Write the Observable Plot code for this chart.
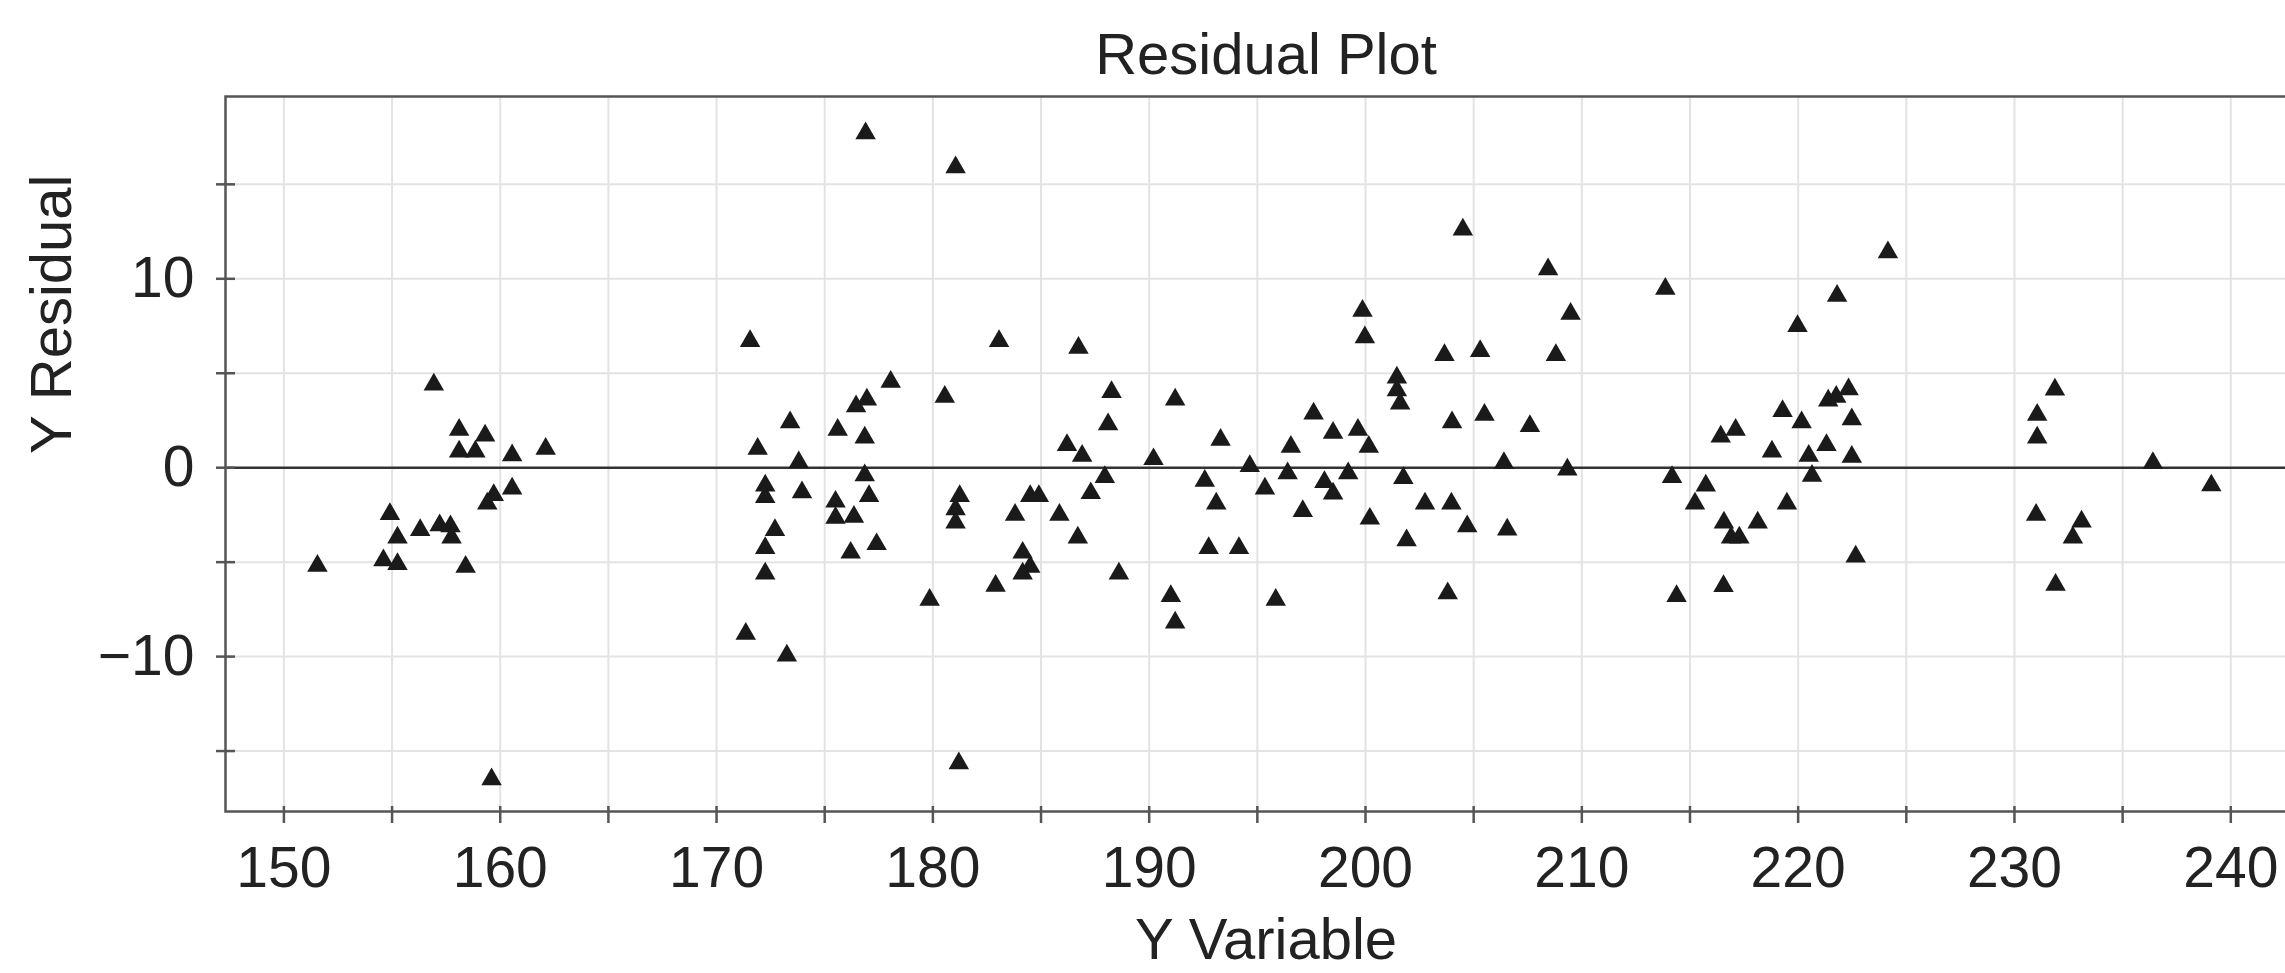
<!DOCTYPE html>
<html>
<head>
<meta charset="utf-8">
<script src="https://cdn.jsdelivr.net/npm/d3@7"></script>
<script src="https://cdn.jsdelivr.net/npm/@observablehq/plot@0.6"></script>
<style>
  html, body { margin: 0; padding: 0; background: #ffffff; overflow: hidden; }
  #chart { width: 2285px; height: 973px; overflow: hidden; }
  #chart svg { max-width: none !important; display: block; }
</style>
</head>
<body>
<div id="chart"></div>
<script>
// ---- Text ----
const title = "Residual Plot";
const xLabel = "Y Variable";
const yLabel = "Y Residual";

// ---- Ticks ----
const xTicks = [150, 155, 160, 165, 170, 175, 180, 185, 190, 195, 200, 205, 210, 215, 220, 225, 230, 235, 240];
const xTickLabels = [150, 160, 170, 180, 190, 200, 210, 220, 230, 240];
const yTicks = [-15, -10, -5, 0, 5, 10, 15];
const yTickLabels = [-10, 0, 10];

// ---- Data ----
const yVariable = [
  // 150–162
  151.55, 156.93, 158.1, 159.3, 158.1, 158.85, 160.55, 162.1, 160.55, 159.7, 159.4,
  154.9, 155.25, 156.3, 157.2, 157.7, 157.75, 154.6, 155.25, 158.4, 159.6,
  // 171–188
  176.89, 181.05, 171.55, 183.06, 186.73, 178.05, 180.55, 176.95, 176.45, 173.4, 175.6,
  176.85, 171.9, 173.8, 186.2, 186.9, 176.85, 172.25, 172.25, 173.95, 175.5, 177.05,
  181.24, 181.05, 181.05, 184.5, 184.9, 187.3, 175.5, 176.35, 172.7, 183.8, 185.85,
  186.7, 172.25, 176.2, 177.4, 184.15, 184.5, 184.15, 172.25, 182.9, 179.85, 171.35,
  173.25, 181.2,
  // 188–208
  188.26, 188.1, 187.95, 188.6, 190.2, 191.2, 191.0, 191.2, 193.3, 192.57, 193.1,
  192.75, 194.15, 194.65, 195.35, 195.85, 196.55, 196.4, 197.1, 197.6, 198.5, 198.1,
  198.5, 199.2, 199.65, 200.15, 199.86, 199.97, 200.2, 201.45, 201.45, 201.6, 201.75,
  201.9, 202.75, 203.65, 204.0, 203.97, 203.8, 204.5, 204.7, 205.3, 205.5, 206.4,
  206.55, 207.6,
  // 208–225
  208.44, 209.48, 208.8, 209.33, 213.86, 214.17, 214.38, 215.73, 215.23, 216.42, 217.11,
  216.57, 216.9, 217.28, 216.55, 218.13, 218.79, 219.28, 219.48, 219.97, 220.16, 220.49,
  220.64, 221.31, 221.8, 221.39, 221.76, 222.33, 222.48, 222.48, 222.66, 224.15,
  // 231–239
  231.87, 231.05, 231.05, 236.4, 239.1, 231.0, 233.1, 232.7, 231.9
];
const yResidual = [
  -5.2, 4.4, 2.0, 1.7, 0.85, 0.85, 0.65, 1.0, -1.1, -1.45, -1.9,
  -2.45, -3.7, -3.3, -3.05, -3.1, -3.7, -4.9, -5.1, -5.25, -16.5,
  17.7, 15.9, 6.7, 6.7, 6.35, 4.55, 3.75, 3.6, 3.25, 2.4, 2.0,
  1.6, 1.0, 0.28, 1.2, 0.63, -0.4, -0.95, -1.55, -1.3, -1.8, -1.5,
  -1.5, -2.2, -2.9, -1.5, -1.5, -1.35, -2.65, -2.6, -3.3, -2.5, -2.5,
  -3.7, -4.25, -4.5, -4.05, -4.5, -5.25, -5.6, -5.6, -6.25, -7.0, -8.8,
  -9.95, -15.65,
  4.0, 2.3, -0.5, -5.6, 0.45, 3.6, -6.8, -8.2, 1.47, -0.7, -1.9,
  -4.25, -4.25, 0.08, -1.1, -7.0, 1.1, -0.3, -2.3, 2.87, 1.85, -0.76,
  -1.37, -0.3, 2.0, 1.1, 8.3, 6.9, -2.7, 4.77, 4.1, 3.4, -0.55,
  -3.85, -1.9, 5.96, 2.4, -1.9, -6.65, 12.6, -3.1, 6.17, 2.8, 0.25,
  -3.27, 2.2,
  10.5, 8.15, 5.96, -0.1, 9.47, -0.5, -6.8, -0.95, -1.9, 1.65, 2.0,
  -2.9, -3.7, -3.7, -6.27, -2.9, 0.85, 3.0, -1.9, 7.5, 2.4, 0.63,
  -0.43, 1.2, 9.1, 3.55, 3.75, 4.15, 2.56, 0.58, -4.7, 11.4,
  4.14, 2.8, 1.6, 0.25, -0.94, -2.5, -2.85, -3.7, -6.2
];

const points = yVariable.map((x, i) => ({ x, r: yResidual[i] }));

const fmtX = d => xTickLabels.includes(d) ? String(d) : "";
const fmtY = d => yTickLabels.includes(d) ? (d < 0 ? "\u2212" + (-d) : String(d)) : "";

const W = 2320, H = 973;
const mL = 225, mR = 14, mT = 96, mB = 162;
const frameW = W - mL - mR, frameH = H - mT - mB;
const ink = "#555555";
const textInk = "#222222";
const font = "'Liberation Sans', Arial, Helvetica, sans-serif";

const chart = Plot.plot({
  width: W,
  height: H,
  marginLeft: mL,
  marginRight: mR,
  marginTop: mT,
  marginBottom: mB,
  style: { fontFamily: font, color: textInk, background: "#ffffff", maxWidth: "none" },
  x: { domain: [147.3, 243.5], label: null },
  y: { domain: [-18.2, 19.65], label: null },
  marks: [
    Plot.gridX({ ticks: xTicks, stroke: "#e3e3e3", strokeOpacity: 1, strokeWidth: 2 }),
    Plot.gridY({ ticks: yTicks.filter(d => d !== 0), stroke: "#e3e3e3", strokeOpacity: 1, strokeWidth: 2 }),
    Plot.ruleY([0], { stroke: "#333333", strokeWidth: 2.5 }),
    Plot.frame({ stroke: ink, strokeWidth: 2.5 }),
    // outer ticks + labels
    Plot.axisX({ ticks: xTicks, tickSize: 12, tickPadding: 23, tickFormat: fmtX, fontSize: 57, stroke: ink, strokeWidth: 2.5, label: null, fill: textInk }),
    Plot.axisY({ ticks: yTicks, tickSize: 9, tickPadding: 22, tickFormat: fmtY, fontSize: 57, stroke: ink, strokeWidth: 2.5, label: null, fill: textInk }),
    // inner tick stubs
    Plot.ruleX(xTicks, { x: d => d, insetTop: frameH - 5, stroke: ink, strokeWidth: 2.5 }),
    Plot.ruleY(yTicks, { y: d => d, insetRight: frameW - 10, stroke: ink, strokeWidth: 2.5 }),
    // points
    Plot.dot(points, { x: "x", y: "r", symbol: "triangle", r: 7.6, fill: "#1a1a1a", stroke: "none" }),
    // title and axis labels
    Plot.text([title], { text: d => d, frameAnchor: "top", lineAnchor: "middle", dy: -41.5, fontSize: 58, fill: textInk }),
    Plot.text([xLabel], { text: d => d, frameAnchor: "bottom", lineAnchor: "middle", dy: 129, fontSize: 58, fill: textInk }),
    Plot.text([yLabel], { text: d => d, frameAnchor: "left", lineAnchor: "middle", dx: -173, rotate: -90, fontSize: 58, fill: textInk })
  ]
});

document.getElementById("chart").appendChild(chart);
</script>
</body>
</html>
